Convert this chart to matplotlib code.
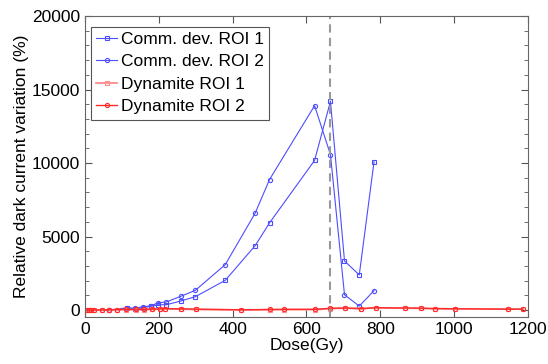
import matplotlib
matplotlib.use("Agg")
import matplotlib.pyplot as plt
from matplotlib.ticker import MultipleLocator

plt.rcParams['font.family'] = ['Liberation Sans', 'DejaVu Sans']

# Commercial device, dose (Gy) and relative dark current variation (%)
comm_dose = [64, 115, 136, 157, 178, 199, 220, 259, 299, 380, 461, 500, 622, 665, 703, 743, 783]
comm_roi1 = [0, 115, 70, 160, 250, 360, 360, 610, 910, 2020, 4380, 5930, 10180, 14200, 3340, 2390, 10090]
comm_roi2 = [0, 160, 120, 225, 290, 500, 545, 930, 1340, 3090, 6590, 8880, 13900, 10570, 1040, 270, 1320]

# Dynamite
dyn_dose = [5, 12, 17, 24, 47, 66, 88, 112, 137, 159, 182, 203, 218, 261, 302, 424, 502, 540,
            623, 665, 705, 748, 788, 868, 909, 947, 1001, 1146, 1186]
dyn_roi1 = [0, 0, 0, 0, 0, 10, 20, 30, 20, 30, 40, 60, 80, 60, 40, 0, 20, 30,
            30, 100, 130, 100, 150, 130, 110, 90, 80, 70, 70]
dyn_roi2 = [0, 0, 0, 0, 10, 20, 30, 50, 40, 50, 60, 80, 100, 80, 60, 20, 40, 50,
            50, 120, 140, 90, 160, 140, 130, 100, 90, 60, 60]

threshold_dose = 665

fig = plt.figure(figsize=(5.48, 3.64), dpi=100)
ax = fig.add_axes([0.155, 0.13, 0.8085, 0.826])

blue = '#4d4dff'
ax.plot(comm_dose, comm_roi1, color=blue, lw=0.8, marker='s', ms=3.2, mfc='none', mew=0.8,
        label='Comm. dev. ROI 1')
ax.plot(comm_dose, comm_roi2, color=blue, lw=0.8, marker='o', ms=3, mfc='none', mew=0.8,
        label='Comm. dev. ROI 2')
ax.plot(dyn_dose, dyn_roi1, color='#ff8c8c', lw=1.3, marker='s', ms=3.2, mfc='none', mew=0.8,
        label='Dynamite ROI 1')
ax.plot(dyn_dose, dyn_roi2, color='#ff2a2a', lw=1.0, marker='o', ms=3, mfc='none', mew=0.8,
        label='Dynamite ROI 2')

ax.axvline(threshold_dose, color='#999999', lw=1.5, ls=(0, (4, 2.5)))

ax.set_xlim(0, 1200)
ax.set_ylim(-450, 20000)
ax.xaxis.set_major_locator(MultipleLocator(200))
ax.yaxis.set_major_locator(MultipleLocator(5000))
ax.yaxis.set_minor_locator(MultipleLocator(1000))
ax.tick_params(which='both', direction='in', top=True, right=True, colors='#555555',
               labelcolor='black', labelsize=12.5)
ax.tick_params(which='major', length=5)
ax.tick_params(which='minor', length=3)
for s in ax.spines.values():
    s.set_color('#666666')

ax.set_xlabel('Dose(Gy)', fontsize=12.5, labelpad=1)
ax.set_ylabel('Relative dark current variation (%)', fontsize=12.5, labelpad=2)

leg = ax.legend(loc='upper left', fontsize=12.5, handlelength=1.2, handletextpad=0.2,
                labelspacing=0.42, borderpad=0.3, borderaxespad=0.35, fancybox=False,
                framealpha=1, bbox_to_anchor=(0.0, 0.985))
leg.get_frame().set_edgecolor('#555555')
leg.get_frame().set_linewidth(0.8)

fig.savefig('out.png', dpi=100)
